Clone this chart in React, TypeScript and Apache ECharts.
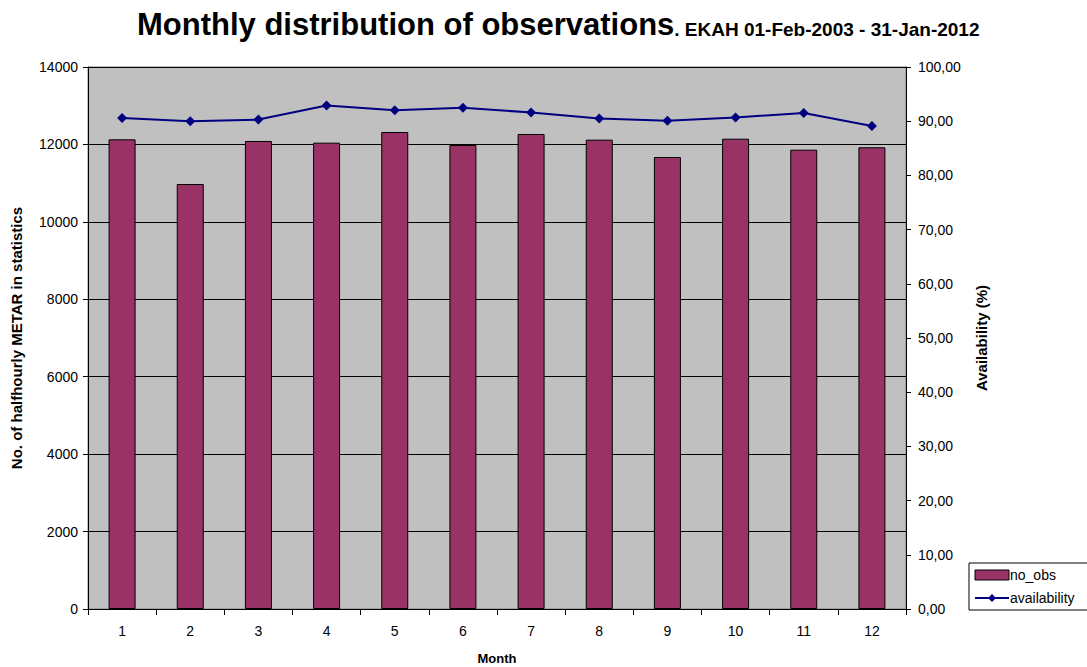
import React, { useEffect, useRef } from "react";
import * as echarts from "echarts";

const months = ["1", "2", "3", "4", "5", "6", "7", "8", "9", "10", "11", "12"];
const noObs = [12132, 10978, 12089, 12045, 12321, 11985, 12270, 12123, 11675, 12148, 11864, 11926];
const availability = [90.6, 90.0, 90.3, 92.9, 92.0, 92.5, 91.6, 90.5, 90.1, 90.7, 91.5, 89.1];

const FONT = "'Liberation Sans', Arial, sans-serif";

export default function App() {
  const ref = useRef<HTMLDivElement>(null);
  useEffect(() => {
    if (!ref.current) return;
    const chart = echarts.init(ref.current, null, { renderer: "svg" });
    chart.setOption({
      animation: false,
      backgroundColor: "#ffffff",
      textStyle: { fontFamily: FONT },
      title: {
        left: 132,
        top: 4,
        text: "{a|Monthly distribution of observations}{b|. EKAH 01-Feb-2003 - 31-Jan-2012}",
        textStyle: {
          rich: {
            a: { fontSize: 31, fontWeight: "bold", fontFamily: FONT, color: "#000" },
            b: { fontSize: 19, fontWeight: "bold", fontFamily: FONT, color: "#000", padding: [9, 0, 0, 0] },
          },
        },
      },
      legend: {
        orient: "vertical",
        left: 969,
        top: 563,
        backgroundColor: "#fff",
        borderColor: "#000",
        borderWidth: 1,
        borderRadius: 0,
        padding: [5, 30, 5, 5],
        itemGap: 9,
        itemWidth: 34,
        itemHeight: 10,
        textStyle: { fontSize: 14, fontFamily: FONT, color: "#000", padding: [0, 0, 0, -4] },
        data: [
          { name: "no_obs", icon: "rect", itemStyle: { color: "#993366", borderColor: "#000", borderWidth: 1 } },
          { name: "availability" },
        ],
      },
      grid: {
        left: 88,
        right: 181,
        top: 67,
        bottom: 58,
        outerBoundsMode: "none",
        containLabel: false,
        show: true,
        backgroundColor: "#c0c0c0",
        borderColor: "#808080",
        borderWidth: 1,
      },
      xAxis: {
        type: "category",
        data: months,
        name: "Month",
        nameLocation: "middle",
        nameGap: 43,
        nameTextStyle: { fontSize: 13, fontWeight: "bold", color: "#000", fontFamily: FONT },
        axisLine: { lineStyle: { color: "#000", width: 1 } },
        axisTick: { show: true, length: 6, lineStyle: { color: "#000" } },
        axisLabel: { fontSize: 14, color: "#000", margin: 15, fontFamily: FONT },
      },
      yAxis: [
        {
          type: "value",
          min: 0,
          max: 14000,
          interval: 2000,
          name: "No. of halfhourly METAR in statistics",
          nameLocation: "middle",
          nameGap: 64,
          nameTextStyle: { fontSize: 15, fontWeight: "bold", color: "#000", fontFamily: FONT },
          axisLine: { show: true, lineStyle: { color: "#000" } },
          axisTick: { show: true, length: 5, lineStyle: { color: "#000" } },
          axisLabel: {
            fontSize: 14,
            color: "#000",
            margin: 10,
            fontFamily: FONT,
            formatter: (v: number) => String(v),
          },
          splitLine: { show: true, lineStyle: { color: "#000", width: 1 } },
        },
        {
          type: "value",
          min: 0,
          max: 100,
          interval: 10,
          position: "right",
          name: "Availability (%)",
          nameLocation: "middle",
          nameGap: 68,
          nameRotate: 90,
          nameTextStyle: { fontSize: 15, fontWeight: "bold", color: "#000", fontFamily: FONT },
          axisLine: { show: true, lineStyle: { color: "#000" } },
          axisTick: { show: true, length: 5, lineStyle: { color: "#000" } },
          axisLabel: {
            fontSize: 14,
            color: "#000",
            margin: 12,
            fontFamily: FONT,
            formatter: (v: number) => v.toFixed(2).replace(".", ","),
          },
          splitLine: { show: false },
        },
      ],
      series: [
        {
          name: "no_obs",
          type: "bar",
          data: noObs,
          barWidth: 27,
          yAxisIndex: 0,
          itemStyle: { color: "#993366", borderColor: "#000", borderWidth: 1 },
        },
        {
          name: "availability",
          type: "line",
          data: availability,
          yAxisIndex: 1,
          symbol: "diamond",
          symbolSize: 10,
          lineStyle: { color: "#000080", width: 2 },
          itemStyle: { color: "#000080" },
        },
      ],
    });
    return () => chart.dispose();
  }, []);
  return <div ref={ref} style={{ width: 1087, height: 667, position: "absolute", left: 0, top: 0 }} />;
}
